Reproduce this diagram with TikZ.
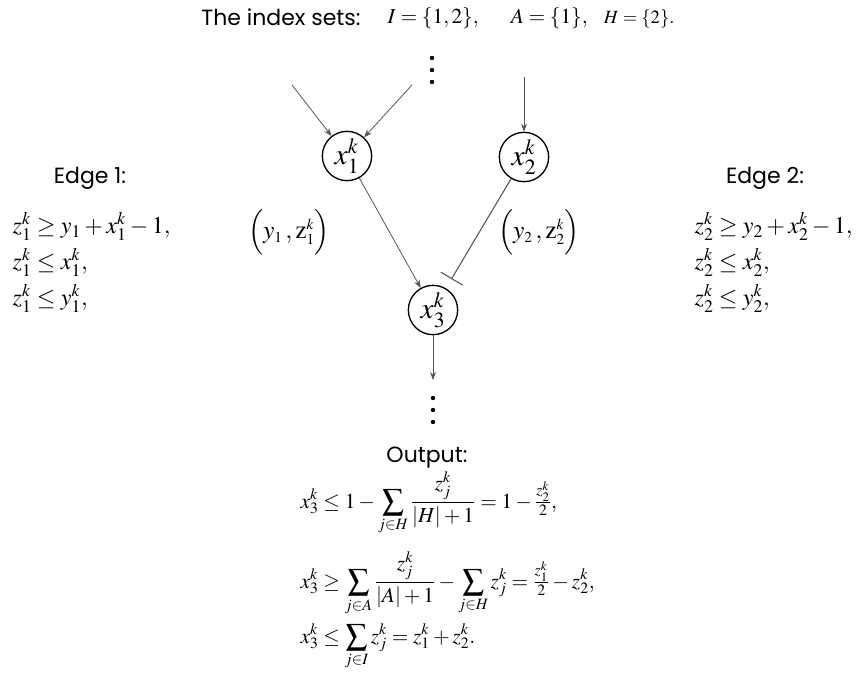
\documentclass[tikz,border=0pt]{standalone}
\usepackage{amsmath,amssymb}
\usepackage{mathptmx}
\usepackage{fontspec}
\setsansfont{Poppins}
\usepackage{xcolor}
\definecolor{linkgray}{RGB}{85, 85, 85}
\usepackage{tikz}
\usetikzlibrary{arrows.meta, positioning, calc}

\newcommand{\sss}[1]{{\scriptscriptstyle #1}}

\begin{document}
\begin{tikzpicture}[x=0.75pt, y=-0.75pt, >={Stealth[length=6pt, width=4.5pt]},
    var/.style={draw, circle, line width=1pt, minimum size=37pt, inner sep=0pt, font=\fontsize{22}{22}\selectfont},
    link/.style={linkgray, line width=0.6pt},
    head/.style={font=\sffamily\fontsize{16.5}{18}\selectfont},
    eqn/.style={align=left, anchor=north west, font=\fontsize{18}{22}\selectfont},
    bound/.style={anchor=base west, font=\fontsize{16}{17}\selectfont}]
    \useasboundingbox (0,0) rectangle (857,681);

    % title
    \node[head] (title) at (281,17) {The index sets:};
    \node[font=\fontsize{16}{18}\selectfont, anchor=base west] (sets) at (383,24)
        {$I=\{1,2\},$\hspace{24pt}$A=\{1\},$\hspace{12pt}{\fontsize{14}{14}\selectfont$H=\{2\}.$}};

    % network
    \node[var] (x1) at (347,156) {$x_1^k$};
    \node[var] (x2) at (524,157) {$x_2^k$};
    \node[var] (x3) at (433,310) {$x_3^k$};
    \coordinate (dotsin) at (432,58);
    \coordinate (dotsout) at (433,398);
    \foreach \d in {0,12,24} {
        \fill (dotsin) ++(0,\d) circle (2.2);
        \fill (dotsout) ++(0,\d) circle (2.2);
    }
    \coordinate (in1a) at (292,85);
    \coordinate (in1b) at (412,85);
    \coordinate (in2) at (524,77);
    \coordinate (out3) at (433,380);

    \draw[link, ->] (in1a) -- (x1);
    \draw[link, ->] (in1b) -- (x1);
    \draw[link, ->] (in2) -- (x2);
    \draw[link, ->] (x1) -- (x3);
    \draw[link, line width=0.8pt, -{Bar[width=19pt]}, shorten >=8pt] (x2) -- (x3);
    \draw[link, ->] (x3) -- (out3);

    \node[font=\fontsize{19}{19}\selectfont] (lab1) at (289,232)
        {$\Bigl(y_{\sss 1}\,,\mathrm{z}^{\sss k}_{\sss 1}\Bigr)$};
    \node[font=\fontsize{19}{19}\selectfont] (lab2) at (539,232)
        {$\Bigl(y_{\sss 2}\,,\mathrm{z}^{\sss k}_{\sss 2}\Bigr)$};

    % edge constraints
    \node[head] (edge1) at (90,178) {Edge 1:};
    \node[eqn] (cons1) at (8,208)
        {$z_1^k\ge y_1+x_1^k-1,$\\[5pt] $z_1^k\le x_1^k,$\\[5pt] $z_1^k\le y_1^k,$};
    \node[head] (edge2) at (765,178) {Edge 2:};
    \node[eqn] (cons2) at (690,208)
        {$z_2^k\ge y_2+x_2^k-1,$\\[5pt] $z_2^k\le x_2^k,$\\[5pt] $z_2^k\le y_2^k,$};

    % output
    \node[head] (output) at (427,458) {Output:};
    \node[bound] (bound1) at (296,508)
        {$\displaystyle x_3^k\le 1-\sum_{j\in H}\frac{z_j^k}{|H|+1}=1-\tfrac{z_2^k}{2},$};
    \node[bound] (bound2) at (296,588)
        {$\displaystyle x_3^k\ge \sum_{j\in A}\frac{z_j^k}{|A|+1}-\sum_{j\in H}z_j^k=\tfrac{z_1^k}{2}-z_2^k,$};
    \node[bound] (bound3) at (296,643)
        {$\displaystyle x_3^k\le \sum_{j\in I}z_j^k=z_1^k+z_2^k.$};
\end{tikzpicture}
\end{document}
